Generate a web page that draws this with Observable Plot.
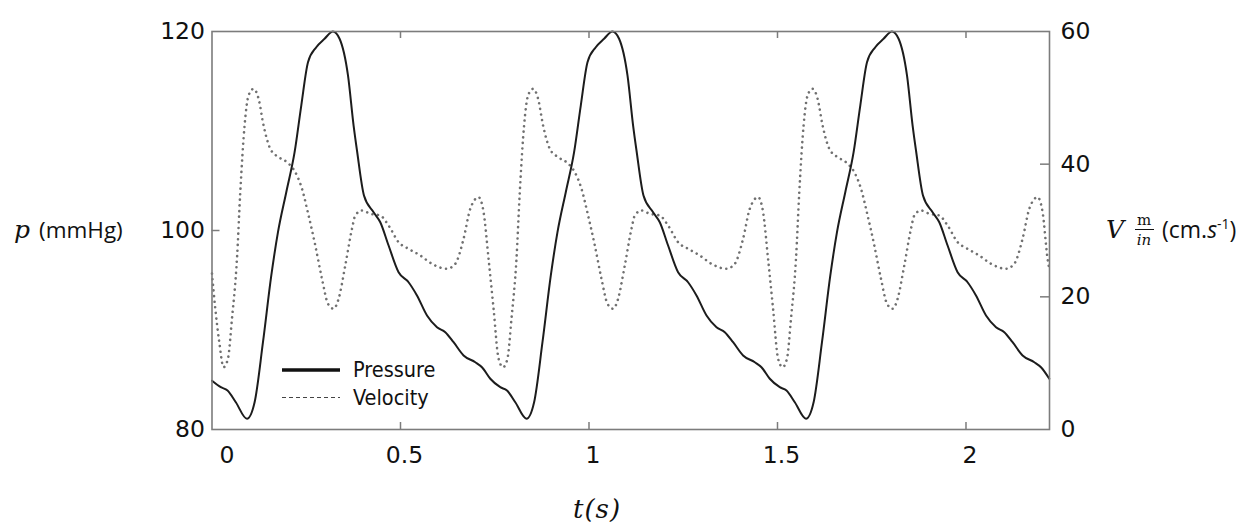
<!DOCTYPE html>
<html><head><meta charset="utf-8">
<script src="https://cdn.jsdelivr.net/npm/d3@7"></script>
<script src="https://cdn.jsdelivr.net/npm/@observablehq/plot@0.6"></script>
<style>body{margin:0;background:#fff}</style>
</head><body><div id="chart"></div>
<script>
// ---- data ----
const pressureTime = [0, 0.0234, 0.0412, 0.0632,
 0.0928, 0.1130, 0.1352, 0.1573, 0.1750, 0.1970, 0.2191, 0.2368, 0.2546, 0.2766, 0.2986, 0.3209, 0.3384, 0.3607, 0.3756, 0.3846, 0.4031, 0.4286, 0.4464, 0.4684, 0.4949, 0.5214, 0.5437, 0.5703, 0.5968, 0.6188, 0.6408, 0.6673, 0.6984, 0.7161, 0.7382, 0.7647, 0.7825, 0.8045,
 0.8342, 0.8544, 0.8766, 0.8987, 0.9164, 0.9384, 0.9605, 0.9782, 0.9960, 1.0180, 1.0400, 1.0623, 1.0798, 1.1021, 1.1170, 1.1260, 1.1445, 1.1700, 1.1878, 1.2098, 1.2363, 1.2628, 1.2851, 1.3117, 1.3382, 1.3602, 1.3822, 1.4087, 1.4398, 1.4575, 1.4796, 1.5061, 1.5239, 1.5459,
 1.5756, 1.5958, 1.6180, 1.6401, 1.6578, 1.6798, 1.7019, 1.7196, 1.7374, 1.7594, 1.7814, 1.8037, 1.8212, 1.8435, 1.8584, 1.8674, 1.8859, 1.9114, 1.9292, 1.9512, 1.9777, 2.0042, 2.0265, 2.0531, 2.0796, 2.1016, 2.1236, 2.1501, 2.1812, 2.1989, 2.2210];
const pressureValue = [84.9, 84.25, 83.92, 82.74,
 81.08, 82.74, 88.77, 95.48, 99.83, 103.85, 107.87, 112.56, 116.91, 118.42, 119.27, 120, 119.27, 115.58, 110.55, 108.04, 103.52, 101.84, 100.83, 98.49, 95.81, 94.8, 93.47, 91.46, 90.28, 89.78, 88.77, 87.44, 86.76, 86.26, 85.1, 84.25, 83.92, 82.74,
 81.08, 82.74, 88.77, 95.48, 99.83, 103.85, 107.87, 112.56, 116.91, 118.42, 119.27, 120, 119.27, 115.58, 110.55, 108.04, 103.52, 101.84, 100.83, 98.49, 95.81, 94.8, 93.47, 91.46, 90.28, 89.78, 88.77, 87.44, 86.76, 86.26, 85.1, 84.25, 83.92, 82.74,
 81.08, 82.74, 88.77, 95.48, 99.83, 103.85, 107.87, 112.56, 116.91, 118.42, 119.27, 120, 119.27, 115.58, 110.55, 108.04, 103.52, 101.84, 100.83, 98.49, 95.81, 94.8, 93.47, 91.46, 90.28, 89.78, 88.77, 87.44, 86.76, 86.26, 85.1];

const velocityTime = [0, 0.0087, 0.0193,
 0.0307, 0.0424, 0.0530, 0.0663, 0.0750, 0.0864, 0.0970, 0.1103, 0.1236, 0.1368, 0.1546, 0.1766, 0.1989, 0.2209, 0.2387, 0.2562, 0.2740, 0.2917, 0.3077, 0.3225, 0.3358, 0.3535, 0.3713, 0.3801, 0.3978, 0.4199, 0.4464, 0.4684, 0.4949, 0.5214, 0.5525, 0.5835, 0.6233, 0.6453, 0.6673, 0.6851, 0.7071, 0.7204, 0.7336, 0.7469, 0.7602,
 0.7721, 0.7838, 0.7944, 0.8077, 0.8164, 0.8278, 0.8384, 0.8517, 0.8650, 0.8782, 0.8960, 0.9180, 0.9403, 0.9623, 0.9801, 0.9976, 1.0154, 1.0331, 1.0491, 1.0639, 1.0772, 1.0949, 1.1127, 1.1215, 1.1392, 1.1613, 1.1878, 1.2098, 1.2363, 1.2628, 1.2939, 1.3249, 1.3647, 1.3867, 1.4087, 1.4265, 1.4485, 1.4618, 1.4750, 1.4883, 1.5016,
 1.5135, 1.5252, 1.5358, 1.5491, 1.5578, 1.5692, 1.5798, 1.5931, 1.6064, 1.6196, 1.6374, 1.6594, 1.6817, 1.7037, 1.7215, 1.7390, 1.7568, 1.7745, 1.7905, 1.8053, 1.8186, 1.8363, 1.8541, 1.8629, 1.8806, 1.9027, 1.9292, 1.9512, 1.9777, 2.0042, 2.0353, 2.0663, 2.1061, 2.1281, 2.1501, 2.1679, 2.1899, 2.2032, 2.2164, 2.2215];
const velocityValue = [23.5, 18.24, 13.16,
 9.39, 10.7, 16.73, 25.78, 35.77, 45.83, 50.35, 51.36, 49.85, 45.83, 42.32, 41.05, 40.3, 38.79, 36.29, 32.26, 27.74, 22.72, 18.95, 18.2, 19.7, 24.72, 30.26, 32.26, 33.02, 32.52, 32.26, 30.75, 28.24, 27.24, 26.23, 24.98, 24.23, 24.98, 28.75, 33.27, 35.02, 32.76, 25.73, 18.2, 10.66,
 9.39, 10.7, 16.73, 25.78, 35.77, 45.83, 50.35, 51.36, 49.85, 45.83, 42.32, 41.05, 40.3, 38.79, 36.29, 32.26, 27.74, 22.72, 18.95, 18.2, 19.7, 24.72, 30.26, 32.26, 33.02, 32.52, 32.26, 30.75, 28.24, 27.24, 26.23, 24.98, 24.23, 24.98, 28.75, 33.27, 35.02, 32.76, 25.73, 18.2, 10.66,
 9.39, 10.7, 16.73, 25.78, 35.77, 45.83, 50.35, 51.36, 49.85, 45.83, 42.32, 41.05, 40.3, 38.79, 36.29, 32.26, 27.74, 22.72, 18.95, 18.2, 19.7, 24.72, 30.26, 32.26, 33.02, 32.52, 32.26, 30.75, 28.24, 27.24, 26.23, 24.98, 24.23, 24.98, 28.75, 33.27, 35.02, 32.76, 25.73, 24];

const timeTicks = [0, 0.5, 1, 1.5, 2];
const pressureTicks = [80, 100, 120];
const velocityTicks = [0, 20, 40, 60];
const seriesNames = ["Pressure", "Velocity"];

// ---- tables ----
const pressure = pressureTime.map((t, i) => ({t, p: pressureValue[i]}));
const velocity = velocityTime.map((t, i) => ({t, v: velocityValue[i]}));
// velocity (0–60) shares the plot with pressure (80–120)
const vToP = v => 80 + v * 40 / 60;
const pToV = p => Math.round((p - 80) * 60 / 40);

const W = 1248, H = 526, ML = 211.5, MR = 199, MT = 31, MB = 97;
const frameW = W - ML - MR, frameH = H - MT - MB;
const gray = "#7c7c7c";

const chart = Plot.plot({
  width: W, height: H,
  marginLeft: ML, marginRight: MR, marginTop: MT, marginBottom: MB,
  style: {fontFamily: "'DejaVu Sans', sans-serif", fontSize: "23.5px", color: "#111", background: "#fff"},
  x: {domain: [0, 2.2215]},
  y: {domain: [80, 120]},
  marks: [
    Plot.line(velocity, {x: "t", y: d => vToP(d.v), stroke: "#707070", strokeWidth: 2.6,
      strokeDasharray: "0.01,5.6", strokeLinecap: "round", curve: "monotone-x"}),
    Plot.line(pressure, {x: "t", y: "p", stroke: "#1c1c1c", strokeWidth: 2, curve: "monotone-x"}),
    Plot.frame({stroke: gray, strokeWidth: 1.6}),
    Plot.tickX(timeTicks.slice(1), {x: d => d, stroke: gray, strokeWidth: 1.5, insetBottom: frameH - 7}),
    Plot.tickX(timeTicks.slice(1), {x: d => d, stroke: gray, strokeWidth: 1.5, insetTop: frameH - 7}),
    Plot.tickY([100], {y: d => d, stroke: gray, strokeWidth: 1.5, insetRight: frameW - 8}),
    Plot.tickY([20, 40].map(vToP), {y: d => d, stroke: gray, strokeWidth: 1.5, insetLeft: frameW - 9}),
    Plot.axisX(timeTicks.slice(1), {tickSize: 0, tickPadding: 17, dx: 4, label: null, tickFormat: d => String(d)}),
    Plot.axisX([0], {tickSize: 0, tickPadding: 17, dx: 15, label: null, tickFormat: d => String(d)}),
    Plot.axisY(pressureTicks, {anchor: "left", tickSize: 0, tickPadding: 7, label: null}),
    Plot.axisY(velocityTicks.map(vToP), {anchor: "right", tickSize: 0, tickPadding: 11, label: null, tickFormat: pToV})
  ]
});
document.getElementById("chart").appendChild(chart);

// ---- axis titles and legend ----
const svg = d3.select(chart);
const g = svg.append("g").attr("fill", "#111").attr("text-anchor", "start");
const serif = "'DejaVu Serif', 'Liberation Serif', serif";
const sans = "'Open Sans', sans-serif";

// left title
g.append("text").attr("x", 14).attr("y", 238).attr("font-family", serif).attr("font-style", "italic")
  .attr("font-size", 25).text("p");
g.append("text").attr("x", 39).attr("y", 238).attr("font-family", sans).attr("font-size", 22.5).text("(mmHg)");

// right title
g.append("text").attr("x", 1106).attr("y", 238).attr("font-family", serif).attr("font-style", "italic")
  .attr("font-size", 25).text("V");
g.append("text").attr("x", 1144).attr("y", 225).attr("text-anchor", "middle").attr("font-family", serif)
  .attr("font-size", 15).text("m");
g.append("line").attr("x1", 1135).attr("x2", 1154).attr("y1", 229.5).attr("y2", 229.5).attr("stroke", "#111").attr("stroke-width", 1);
g.append("text").attr("x", 1144).attr("y", 245).attr("text-anchor", "middle").attr("font-family", serif)
  .attr("font-style", "italic").attr("font-size", 15).text("in");
const rt = g.append("text").attr("x", 1162).attr("y", 238).attr("font-family", sans).attr("font-size", 23);
rt.append("tspan").text("(cm.");
rt.append("tspan").attr("font-style", "italic").text("s");
rt.append("tspan").attr("font-size", 14).attr("dy", -9).text("-1");
rt.append("tspan").attr("dy", 9).text(")");

// bottom title
g.append("text").attr("x", 597).attr("y", 518).attr("text-anchor", "middle").attr("font-family", serif)
  .attr("font-style", "italic").attr("font-size", 26).attr("letter-spacing", 1).text("t(s)");

// legend
const lg = svg.append("g").attr("text-anchor", "start");
lg.append("line").attr("x1", 282).attr("x2", 340).attr("y1", 370).attr("y2", 370)
  .attr("stroke", "#111").attr("stroke-width", 3.5);
lg.append("line").attr("x1", 282).attr("x2", 340).attr("y1", 397.5).attr("y2", 397.5)
  .attr("stroke", "#444").attr("stroke-width", 1.1).attr("stroke-dasharray", "4,3");
lg.selectAll("text.leg").data(seriesNames).join("text").attr("class", "leg")
  .attr("x", 353).attr("y", (d, i) => 377 + i * 28)
  .attr("font-family", "'DejaVu Sans Condensed', 'DejaVu Sans', sans-serif")
  .attr("font-stretch", "condensed").attr("font-size", 21.5).attr("fill", "#111").text(d => d);
</script>
</body></html>
